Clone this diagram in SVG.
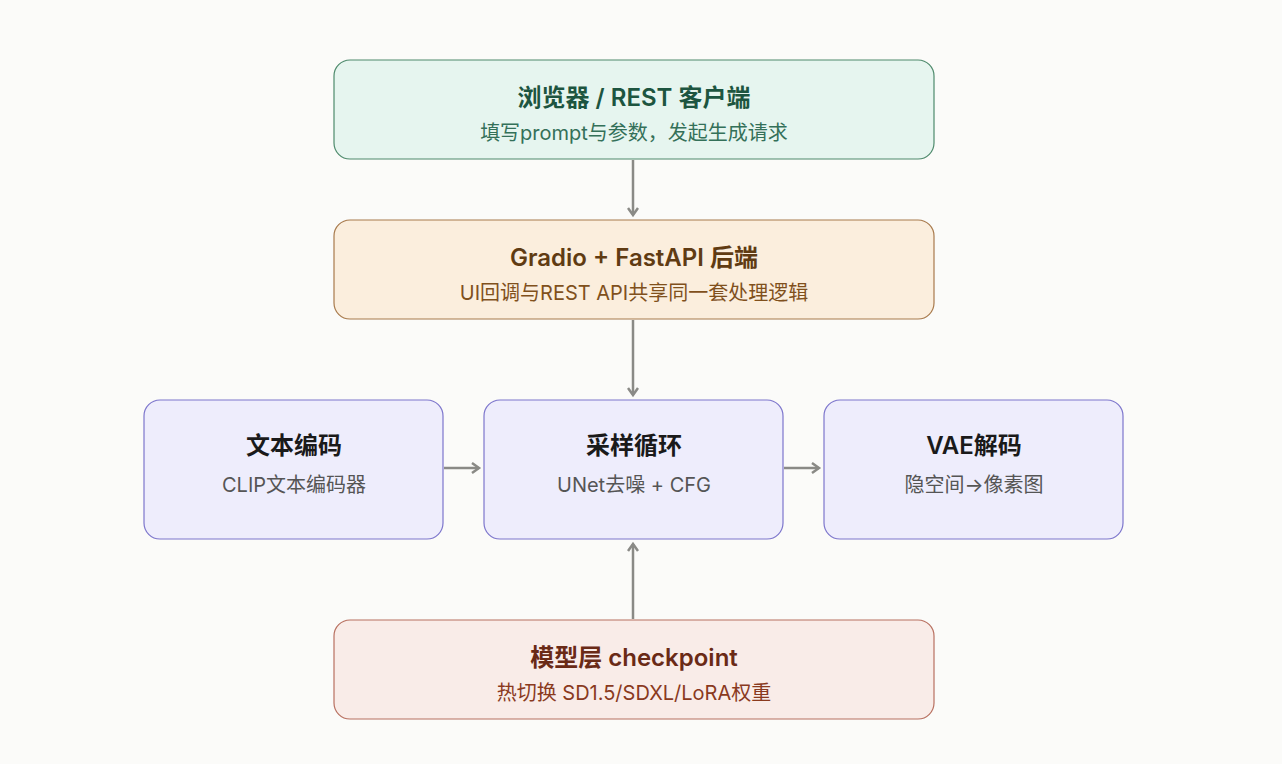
<svg xmlns="http://www.w3.org/2000/svg" width="1282" height="764" viewBox="0 0 1282 764">
<style>
text{font-family:Inter,"Noto Sans CJK SC",sans-serif;text-anchor:middle}
.t{font-size:24px;font-weight:600}
.s{font-size:20px}
.c{stroke:#8a8a86;stroke-width:2.5;fill:none;marker-end:url(#a)}
</style>
<defs><marker id="a" markerWidth="12" markerHeight="12" refX="9" refY="6" orient="auto" markerUnits="userSpaceOnUse"><path d="M2,1 L9,6 L2,11" fill="none" stroke="#8a8a86" stroke-width="2.5"/></marker></defs>
<rect width="1282" height="764" fill="#fbfbf9"/>
<g id="connectors">
<path class="c" d="M633,160V215"/>
<path class="c" d="M633,320V395"/>
<path class="c" d="M444,468H479"/>
<path class="c" d="M784,468H819"/>
<path class="c" d="M633,619V544"/>
</g>
<g id="client"><rect x="334" y="60" width="600" height="99" rx="16" fill="#e6f5ef" stroke="#4e8a6c" stroke-width="1.2"/>
<text class="t" x="634" y="106" fill="#1d5540">浏览器 / REST 客户端</text><text class="s" x="634" y="140" fill="#347059">填写prompt与参数，发起生成请求</text></g>
<g id="backend"><rect x="334" y="220" width="600" height="99" rx="16" fill="#fbeedd" stroke="#a87a4c" stroke-width="1.2"/>
<text class="t" x="634" y="266" fill="#603b12">Gradio + FastAPI 后端</text><text class="s" x="634" y="300" fill="#80501c">UI回调与REST API共享同一套处理逻辑</text></g>
<g id="textenc"><rect x="144" y="400" width="299" height="139" rx="16" fill="#eeedfc" stroke="#7d76cc" stroke-width="1.2"/>
<text class="t" x="294" y="454" fill="#1a1a1a">文本编码</text><text class="s" x="294" y="492" fill="#555">CLIP文本编码器</text></g>
<g id="sampler"><rect x="484" y="400" width="299" height="139" rx="16" fill="#eeedfc" stroke="#7d76cc" stroke-width="1.2"/>
<text class="t" x="634" y="454" fill="#1a1a1a">采样循环</text><text class="s" x="634" y="492" fill="#555">UNet去噪 + CFG</text></g>
<g id="vae"><rect x="824" y="400" width="299" height="139" rx="16" fill="#eeedfc" stroke="#7d76cc" stroke-width="1.2"/>
<text class="t" x="974" y="454" fill="#1a1a1a">VAE解码</text><text class="s" x="974" y="492" fill="#555">隐空间→像素图</text></g>
<g id="model"><rect x="334" y="620" width="600" height="99" rx="16" fill="#f9ece8" stroke="#b87060" stroke-width="1.2"/>
<text class="t" x="634" y="666" fill="#6a2a16">模型层 checkpoint</text><text class="s" x="634" y="700" fill="#8a3a1e">热切换 SD1.5/SDXL/LoRA权重</text></g>
</svg>
